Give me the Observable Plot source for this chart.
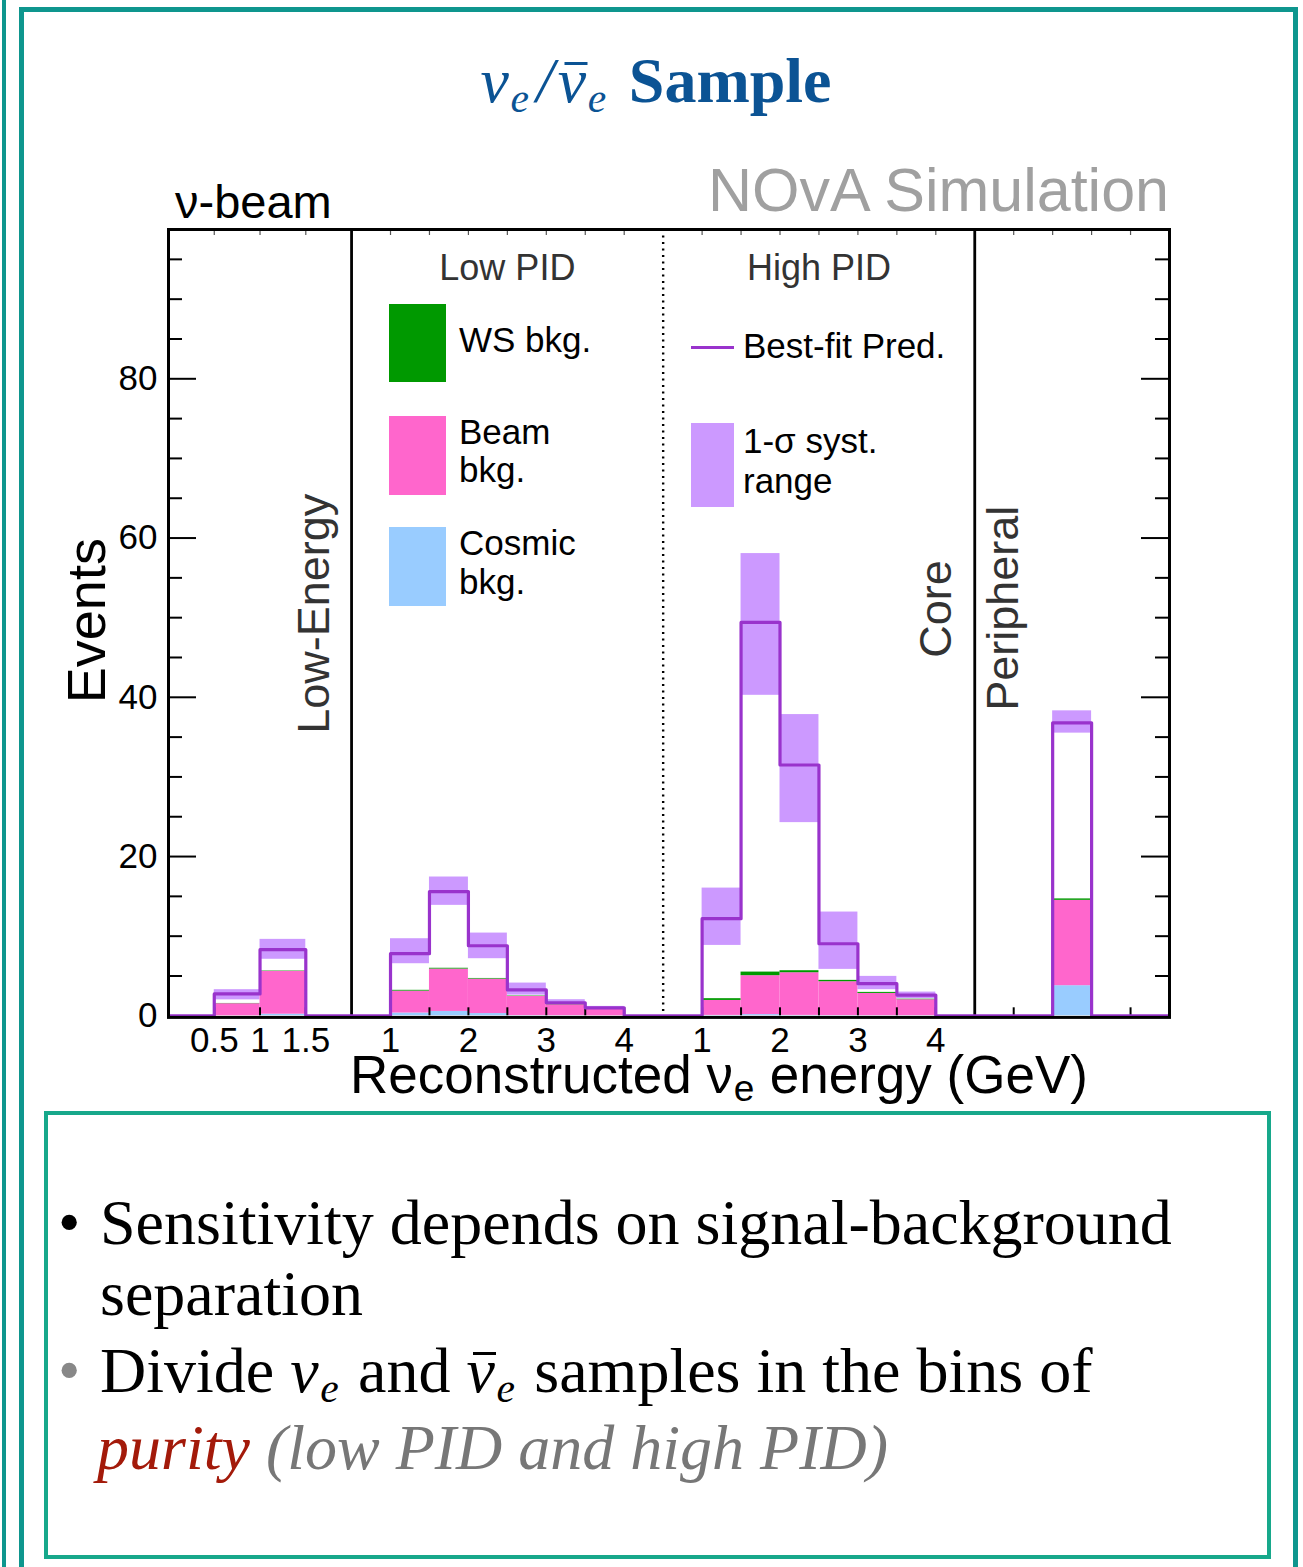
<!DOCTYPE html>
<html><head><meta charset="utf-8">
<script src="https://cdn.jsdelivr.net/npm/d3@7"></script>
<script src="https://cdn.jsdelivr.net/npm/@observablehq/plot@0.6"></script>
<style>
body{margin:0;background:#fff;}
#page{position:relative;width:1303px;height:1567px;overflow:hidden;background:#fff;font-family:"Liberation Sans",Arial,sans-serif;}
.abs{position:absolute;white-space:nowrap;line-height:1;}
.sub{font-size:0.65em;vertical-align:-0.23em;line-height:0;margin-left:0.04em;margin-right:0.08em;}
.box{position:absolute;box-sizing:border-box;}
.nb{position:relative;display:inline-block;line-height:1;}
.nb > .bar{position:absolute;left:0.1em;width:0.36em;top:0.2em;height:0.05em;background:currentColor;}
</style></head><body><div id="page"></div>
<script>
// ---------------- DATA ----------------
const segmentNames = ["Low-Energy", "Low PID", "High PID", "Peripheral"];

// bin edges (GeV; peripheral uses bin number)
const binEdgesLowE   = [0, 0.5, 1, 1.5, 2];
const binEdgesLowPID = [0.5, 1, 1.5, 2, 2.5, 3, 3.5, 4, 4.5];
const binEdgesHighPID= [0.5, 1, 1.5, 2, 2.5, 3, 3.5, 4, 4.5];
const binEdgesPeriph = [0, 1, 2, 3, 4, 5];

// best-fit prediction (events per bin)
const bestFitLowE    = [0, 2.75, 8.3, 0];
const bestFitLowPID  = [0, 7.8, 15.6, 8.8, 3.25, 1.64, 1.0, 0];
const bestFitHighPID = [0, 12.2, 49.4, 31.5, 9.05, 4.03, 2.6, 0];
const bestFitPeriph  = [0, 0, 36.8, 0, 0];

// 1-sigma systematic range
const systLowLowE     = [null, 2.0, 7.1, null];
const systHighLowE    = [null, 3.28, 9.6, null];
const systLowLowPID   = [null, 6.54, 13.87, 7.17, 2.6, 1.35, 0.85, null];
const systHighLowPID  = [null, 9.68, 17.43, 10.39, 4.11, 2.02, 1.18, null];
const systLowHighPID  = [null, 8.84, 40.25, 24.26, 5.83, 3.28, 2.15, null];
const systHighHighPID = [null, 16.04, 58.05, 37.83, 13.03, 4.95, 2.98, null];
const systLowPeriph   = [null, null, 35.5, null, null];
const systHighPeriph  = [null, null, 38.3, null, null];

// backgrounds (stacked: cosmic, beam, wrong-sign)
const cosmicLowE    = [0, 0, 0.2, 0];
const cosmicLowPID  = [0, 0.35, 0.55, 0.28, 0.03, 0.02, 0, 0];
const cosmicHighPID = [0, 0.05, 0.15, 0.05, 0.03, 0.02, 0.02, 0];
const cosmicPeriph  = [0, 0, 3.78, 0, 0];

const beamLowE    = [0, 1.52, 5.38, 0];
const beamLowPID  = [0, 2.75, 5.32, 4.33, 2.41, 1.37, 0.8, 0];
const beamHighPID = [0, 1.88, 4.89, 5.36, 4.25, 2.79, 2.0, 0];
const beamPeriph  = [0, 0, 10.72, 0, 0];

const wsLowE    = [0, 0.03, 0.05, 0];
const wsLowPID  = [0, 0.1, 0.1, 0.08, 0.05, 0.03, 0.02, 0];
const wsHighPID = [0, 0.22, 0.45, 0.25, 0.17, 0.13, 0.06, 0];
const wsPeriph  = [0, 0, 0.18, 0, 0];

// tick labels per segment
const tickLabelsLowE    = [0.5, 1, 1.5];
const tickLabelsLowPID  = [1, 2, 3, 4];
const tickLabelsHighPID = [1, 2, 3, 4];
const tickLabelsPeriph  = [];

const yMajorTicks = [0, 20, 40, 60, 80];

// ---------------- LAYOUT ----------------
const W = 1303, H = 1110;
const mL = 168, mR = 134, mT = 229, mB = 94.7;
const frameW = W - mL - mR, frameH = H - mT - mB;
const segUnits = [4.7, 8, 8, 5]; // relative widths of the four panels

const segs = [
  {edges: binEdgesLowE, fit: bestFitLowE, sLo: systLowLowE, sHi: systHighLowE, cos: cosmicLowE, beam: beamLowE, ws: wsLowE, labels: tickLabelsLowE},
  {edges: binEdgesLowPID, fit: bestFitLowPID, sLo: systLowLowPID, sHi: systHighLowPID, cos: cosmicLowPID, beam: beamLowPID, ws: wsLowPID, labels: tickLabelsLowPID},
  {edges: binEdgesHighPID, fit: bestFitHighPID, sLo: systLowHighPID, sHi: systHighHighPID, cos: cosmicHighPID, beam: beamHighPID, ws: wsHighPID, labels: tickLabelsHighPID},
  {edges: binEdgesPeriph, fit: bestFitPeriph, sLo: systLowPeriph, sHi: systHighPeriph, cos: cosmicPeriph, beam: beamPeriph, ws: wsPeriph, labels: tickLabelsPeriph}
];
const offsets = segUnits.map((u, i) => d3.sum(segUnits.slice(0, i)));
const totalUnits = d3.sum(segUnits);
function gx(s, e) {
  const ed = segs[s].edges;
  return offsets[s] + (e - ed[0]) / (ed[ed.length - 1] - ed[0]) * segUnits[s];
}

const bins = [];
segs.forEach((sg, s) => {
  sg.fit.forEach((v, i) => {
    const c = sg.cos[i], b = sg.beam[i], w = sg.ws[i];
    bins.push({s, x1: gx(s, sg.edges[i]), x2: gx(s, sg.edges[i + 1]), fit: v,
      lo: sg.sLo[i], hi: sg.sHi[i], c0: 0, c1: c, b1: c + b, w1: c + b + w});
  });
});
const stepPts = bins.map(b => ({x: b.x1, y: b.fit}));
stepPts.push({x: bins[bins.length - 1].x2, y: bins[bins.length - 1].fit});

const innerEdges = [];
segs.forEach((sg, s) => sg.edges.slice(1, -1).forEach(e => innerEdges.push(gx(s, e))));
const tickLabels = [];
segs.forEach((sg, s) => sg.labels.forEach(e => tickLabels.push({x: gx(s, e), t: String(e)})));
const minorTicks = d3.range(5, 100, 5).filter(v => v % 20 !== 0);
const majorTicks = yMajorTicks.filter(v => v > 0);

const C = {band: "#cc99ff", line: "#9933cc", beam: "#ff66cc", ws: "#009900", cosmic: "#99ccff"};

const chart = Plot.plot({
  width: W, height: H,
  marginLeft: mL, marginRight: mR, marginTop: mT, marginBottom: mB,
  x: {domain: [0, totalUnits], axis: null},
  y: {domain: [0, 98.75], axis: null},
  style: {fontFamily: "'Liberation Sans', Arial, sans-serif", background: "transparent", overflow: "visible"},
  marks: [
    Plot.rect(bins.filter(b => b.hi != null), {x1: "x1", x2: "x2", y1: "lo", y2: "hi", fill: C.band}),
    Plot.rect(bins.filter(b => b.c1 > 0), {x1: "x1", x2: "x2", y1: "c0", y2: "c1", fill: C.cosmic}),
    Plot.rect(bins.filter(b => b.b1 > b.c1), {x1: "x1", x2: "x2", y1: "c1", y2: "b1", fill: C.beam}),
    Plot.rect(bins.filter(b => b.w1 > b.b1), {x1: "x1", x2: "x2", y1: "b1", y2: "w1", fill: C.ws}),
    // panel dividers
    Plot.ruleX([offsets[1], offsets[3]], {stroke: "black", strokeWidth: 2.8}),
    Plot.ruleX([offsets[2]], {stroke: "black", strokeWidth: 2.4, strokeDasharray: "2,4.5"}),
    // x ticks (bottom and top)
    Plot.ruleX(innerEdges, {stroke: "black", strokeWidth: 2, insetTop: frameH - 8}),
    Plot.ruleX(innerEdges, {stroke: "#555", strokeWidth: 1.2, insetBottom: frameH - 6}),
    // y ticks left and right
    Plot.ruleY(majorTicks, {stroke: "black", strokeWidth: 2, insetRight: frameW - 28}),
    Plot.ruleY(minorTicks, {stroke: "black", strokeWidth: 2, insetRight: frameW - 14}),
    Plot.ruleY(majorTicks, {stroke: "black", strokeWidth: 2, insetLeft: frameW - 28}),
    Plot.ruleY(minorTicks, {stroke: "black", strokeWidth: 2, insetLeft: frameW - 14}),
    // best-fit prediction
    Plot.line(stepPts, {x: "x", y: "y", curve: "step-after", stroke: C.line, strokeWidth: 3.2}),
    Plot.frame({stroke: "black", strokeWidth: 3, insetBottom: -1.6}),
    // y tick labels
    Plot.text(yMajorTicks, {y: d => d, text: d => String(d), frameAnchor: "left", textAnchor: "end", dx: -11, fontSize: 35, fill: "black"}),
    // x tick labels
    Plot.text(tickLabels, {x: "x", text: "t", frameAnchor: "bottom", lineAnchor: "top", dy: 11, fontSize: 35, fill: "black"}),
    // panel labels
    Plot.text([segmentNames[1]], {x: gx(1, 2.5), frameAnchor: "top", lineAnchor: "bottom", dy: 50, fontSize: 36, fill: "#333"}),
    Plot.text([segmentNames[2]], {x: gx(2, 2.5), frameAnchor: "top", lineAnchor: "bottom", dy: 50, fontSize: 36, fill: "#333"}),
    Plot.text([segmentNames[0]], {x: offsets[1], frameAnchor: "bottom", rotate: -90, textAnchor: "start", lineAnchor: "bottom", dx: -23, dy: -282, fontSize: 45, fill: "#333"}),
    Plot.text(["Core"], {x: offsets[3], frameAnchor: "bottom", rotate: -90, textAnchor: "start", lineAnchor: "bottom", dx: -24, dy: -358, fontSize: 45, fill: "#333"}),
    Plot.text([segmentNames[3]], {x: offsets[3], frameAnchor: "bottom", rotate: -90, textAnchor: "start", lineAnchor: "bottom", dx: 43, dy: -305, fontSize: 45, fill: "#333"}),
    // y axis title
    Plot.text(["Events"], {frameAnchor: "left", rotate: -90, textAnchor: "middle", lineAnchor: "bottom", dx: -64, dy: -2, fontSize: 54, fill: "black"})
  ]
});

// ---------------- PAGE ----------------
const page = document.getElementById("page");
function box(x, y, w, h, css) {
  const d = document.createElement("div"); d.className = "box";
  Object.assign(d.style, {left: x + "px", top: y + "px", width: w + "px", height: h + "px"}, css || {});
  page.appendChild(d); return d;
}
function put(html, x, base, size, opts = {}) {
  const d = document.createElement("div"); d.className = "abs"; d.innerHTML = html;
  const serif = opts.serif;
  d.style.fontFamily = serif ? "'Liberation Serif','Times New Roman',serif" : "'Liberation Sans',Arial,sans-serif";
  d.style.fontSize = size + "px";
  if (opts.weight) d.style.fontWeight = opts.weight;
  if (opts.italic) d.style.fontStyle = "italic";
  d.style.color = opts.color || "black";
  if (opts.ls) d.style.letterSpacing = opts.ls + "px";
  d.style.top = (base - (serif ? 0.8375 : 0.8465) * size) + "px";
  if (opts.anchor === "end") d.style.right = (W - x) + "px";
  else if (opts.anchor === "middle") { d.style.left = x + "px"; d.style.transform = "translateX(-50%)"; }
  else d.style.left = x + "px";
  page.appendChild(d); return d;
}
const nuBar = '<span class="nb">ν<span class="bar"></span></span>';

// slide frame
box(2, 0, 4, 1567, {background: "#0e968e"});
box(19, 7, 1279, 1620, {border: "5px solid #0e968e"});

chart.style.position = "absolute"; chart.style.left = "0px"; chart.style.top = "0px";
page.appendChild(chart);

// title
put('<i>ν<span class="sub">e</span><span style="margin:0 0.06em">/</span>' + nuBar + '<span class="sub">e</span></i> <b style="margin-left:0.05em">Sample</b>', 656, 103, 64, {serif: true, color: "#0b5394", anchor: "middle"});

put("ν-beam", 175, 218, 47);
put("NOvA Simulation", 1169, 212, 61, {color: "#a0a0a0", anchor: "end"});
put('Reconstructed ν<span class="sub" style="font-size:0.7em;vertical-align:-0.2em;margin:0 0.02em">e</span> energy (GeV)', 350, 1093, 53);

// legend
box(389, 304, 57, 78, {background: C.ws});
box(389, 416, 57, 79, {background: C.beam});
box(389, 527, 57, 79, {background: C.cosmic});
put("WS bkg.", 459, 352, 35);
put("Beam", 459, 444, 35);
put("bkg.", 459, 482, 35);
put("Cosmic", 459, 555, 35);
put("bkg.", 459, 594, 35);
box(691, 345.5, 43, 3, {background: C.line});
put("Best-fit Pred.", 743, 358, 35);
box(691, 423, 43, 84, {background: C.band});
put("1-σ syst.", 743, 453, 35);
put("range", 743, 493, 35);

// bottom text box
box(44, 1111, 1227, 448, {border: "4px solid #17a88b"});
put("•", 58, 1245, 64, {serif: true});
put("Sensitivity depends on signal-background", 100, 1245, 64, {serif: true});
put("separation", 100, 1316, 64, {serif: true});
put("•", 58, 1393, 64, {serif: true, color: "#888"});
put('Divide <i>ν<span class="sub">e</span></i> and <i>' + nuBar + '<span class="sub">e</span></i> samples in the bins of', 100, 1393, 64, {serif: true});
put('<i style="color:#a31a0a">purity</i> <i style="color:#777">(low PID and high PID)</i>', 97, 1470, 64, {serif: true});
</script></body></html>
